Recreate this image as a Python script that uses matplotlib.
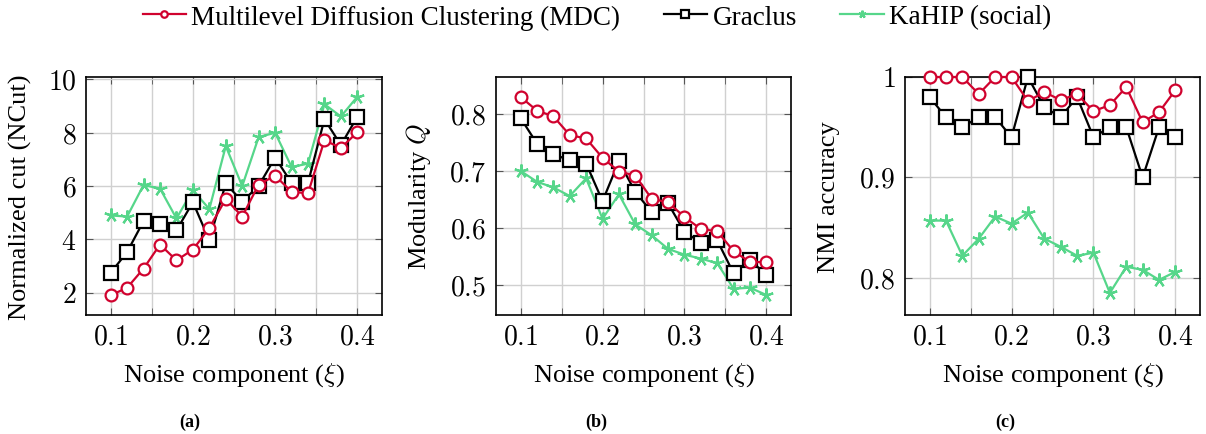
import numpy as np
import matplotlib
matplotlib.use("Agg")
import matplotlib.pyplot as plt
from matplotlib.ticker import MultipleLocator

plt.rcParams['font.family'] = ['Liberation Serif', 'DejaVu Serif']
plt.rcParams['mathtext.fontset'] = 'cm'

xi = [0.10, 0.12, 0.14, 0.16, 0.18, 0.20, 0.22, 0.24,
      0.26, 0.28, 0.30, 0.32, 0.34, 0.36, 0.38, 0.40]

# (a) normalized cut
ncut_mdc = [1.91, 2.19, 2.91, 3.81, 3.22, 3.62, 4.43, 5.52,
            4.86, 6.06, 6.39, 5.79, 5.73, 7.72, 7.43, 8.02]
ncut_graclus = [2.75, 3.53, 4.69, 4.57, 4.34, 5.40, 3.97, 6.10,
                5.42, 6.01, 7.07, 6.12, 6.12, 8.51, 7.54, 8.60]
ncut_kahip = [4.90, 4.86, 6.04, 5.91, 4.79, 5.85, 5.14, 7.50,
              6.00, 7.84, 8.00, 6.72, 6.84, 9.07, 8.61, 9.35]

# (b) modularity
mod_mdc = [0.830, 0.806, 0.796, 0.763, 0.757, 0.723, 0.699, 0.692,
           0.651, 0.645, 0.619, 0.598, 0.594, 0.559, 0.540, 0.540]
mod_graclus = [0.793, 0.748, 0.729, 0.719, 0.713, 0.647, 0.717, 0.663,
               0.628, 0.643, 0.593, 0.574, 0.578, 0.520, 0.544, 0.517]
mod_kahip = [0.700, 0.681, 0.671, 0.656, 0.687, 0.616, 0.659, 0.606,
             0.587, 0.563, 0.553, 0.546, 0.538, 0.493, 0.495, 0.482]

# (c) NMI
nmi_mdc = [1.000, 1.000, 1.000, 0.983, 1.000, 1.000, 0.976, 0.985,
           0.977, 0.983, 0.966, 0.972, 0.990, 0.955, 0.965, 0.987]
nmi_graclus = [0.98, 0.96, 0.95, 0.96, 0.96, 0.94, 1.00, 0.97,
               0.96, 0.98, 0.94, 0.95, 0.95, 0.90, 0.95, 0.94]
nmi_kahip = [0.857, 0.857, 0.822, 0.839, 0.861, 0.854, 0.865, 0.839,
             0.831, 0.822, 0.825, 0.785, 0.811, 0.808, 0.798, 0.806]

labels = ['Multilevel Diffusion Clustering (MDC)', 'Graclus', 'KaHIP (social)']
red = '#d0022e'
green = '#56d68a'

fig = plt.figure(figsize=(12.06, 4.35), dpi=100)
W, H = 1206, 435
boxes = [(86, 296), (496, 295), (905, 295)]
panels = [
    (ncut_mdc, ncut_graclus, ncut_kahip, 'Normalized cut (NCut)', (1.17, 10.09), 2, -0.183, '(a)', 190),
    (mod_mdc, mod_graclus, mod_kahip, r'Modularity $Q$', (0.447, 0.865), 0.1, -0.212, '(b)', 596),
    (nmi_mdc, nmi_graclus, nmi_kahip, 'NMI accuracy', (0.763, 1.0), 0.1, -0.22, '(c)', 1005),
]

mathfmt = plt.FuncFormatter(lambda v, p: '$%g$' % round(v, 2))

handles = None
for (left, width), (m, g, k, ylab, ylim, ystep, ylx, cap, capx) in zip(boxes, panels):
    ax = fig.add_axes([left / W, 1 - 316 / H, width / W, 238 / H])
    l1, = ax.plot(xi, m, '-o', color=red, lw=1.6, ms=8.5, mfc='white', mew=1.6, clip_on=False, zorder=4)
    l2, = ax.plot(xi, g, '-s', color='black', lw=1.6, ms=9.5, mfc='white', mew=1.6, clip_on=False, zorder=3)
    l3, = ax.plot(xi, k, '-', marker=(5, 2, 0), color=green, lw=1.6, ms=10, mew=1.6, clip_on=False, zorder=2)
    handles = [l1, l2, l3]
    ax.set_xlim(0.07, 0.43)
    ax.set_ylim(*ylim)
    ax.xaxis.set_major_locator(MultipleLocator(0.1))
    ax.xaxis.set_minor_locator(MultipleLocator(0.05))
    ax.yaxis.set_major_locator(MultipleLocator(ystep))
    ax.yaxis.set_minor_locator(plt.NullLocator())
    ax.xaxis.set_major_formatter(mathfmt)
    ax.yaxis.set_major_formatter(mathfmt)
    ax.grid(True, which='both', color='#d0d0d0', lw=1.0)
    ax.set_axisbelow(True)
    ax.tick_params(which='both', direction='in', top=True, right=True, length=5,
                   color='#555555', labelsize=20, pad=7)
    for s in ax.spines.values():
        s.set_linewidth(1.2)
    ax.set_xlabel(r'Noise component ($\xi$)', fontsize=19)
    ax.xaxis.set_label_coords(0.5, -0.19)
    ax.set_ylabel(ylab, fontsize=19)
    ax.yaxis.set_label_coords(ylx, 0.5)
    fig.text(capx / W, 1 - 422 / H, cap, ha='center', va='center', fontsize=13, fontweight='bold')

fig.legend(handles, labels, loc='center', bbox_to_anchor=(0.495, 1 - 18 / H), ncol=3,
           frameon=False, fontsize=19.5, markerscale=0.55, handlelength=1.6,
           handletextpad=0.2, columnspacing=1.6)

fig.savefig('out.png', dpi=100)
